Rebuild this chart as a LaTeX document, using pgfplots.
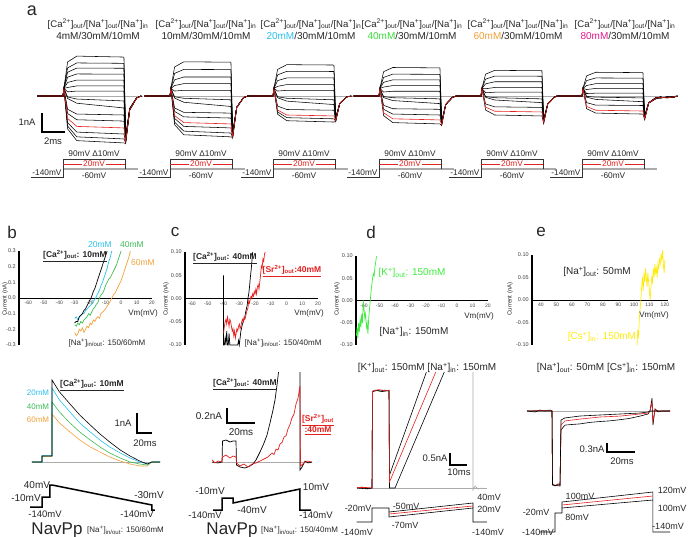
\documentclass[border=0pt]{standalone}
\usepackage{fontspec}
\setmainfont{Liberation Sans}
\usepackage{pgfplots}
\usepackage{pgfplotstable}
\pgfplotsset{compat=1.18}
\definecolor{cyanC}{HTML}{2BC0EC}
\definecolor{greenB}{HTML}{3DBB55}
\definecolor{greenH}{HTML}{3AD93A}
\definecolor{orangeC}{HTML}{F2A03A}
\definecolor{magC}{HTML}{E2188C}
\definecolor{redC}{HTML}{E3211F}
\definecolor{greenD}{HTML}{3DEB3D}
\definecolor{yellowC}{HTML}{FFEB0A}
\definecolor{grayC}{HTML}{ABABAB}
\definecolor{txt}{HTML}{262626}
\newcommand{\fs}[1]{\fontsize{#1}{#1}\selectfont}
\newcommand{\ion}[3]{[#1\textsuperscript{#2}]\textsubscript{#3}}
\newcommand{\T}[4][]{\node[#1] at (#2,-#3) {#4};}

% panel a: one table per group; columns = time (ms), then traces (nA); last column = red trace
\pgfplotstableread[header=false]{
-2.2 0 0 0 0 0 0 0 0 0 0 0 0 0 0 0
0 0 0 0 0 0 0 0 0 0 0 0 0 0 0 0
0.08 0.4 0.4 0.4 0.4 0.4 0.4 0.4 0.4 0.4 0.4 0.4 0.4 0.4 0.4 0.4
0.4 1.79 1.48 1.25 0.99 0.71 0.45 0.22 -0.05 -0.13 -0.70 -0.92 -1.40 -1.58 -1.73 -1.18
1.2 2.1 1.74 1.47 1.16 0.84 0.53 0.26 -0.16 -0.38 -0.95 -1.25 -1.90 -2.15 -2.35 -1.60
5.3 2.05 1.72 1.46 1.15 0.84 0.53 0.26 -0.26 -0.63 -1.00 -1.32 -2.00 -2.26 -2.47 -1.68
5.45 -2.1 -2.15 -2.2 -2.2 -2.25 -2.3 -2.3 -2.35 -2.35 -2.4 -2.4 -2.45 -2.45 -2.5 -2.4
5.8 -0.65 -0.66 -0.68 -0.68 -0.7 -0.7 -0.7 -0.72 -0.72 -0.73 -0.73 -0.74 -0.74 -0.75 -0.73
6.4 -0.1 -0.1 -0.1 -0.1 -0.1 -0.1 -0.1 -0.1 -0.1 -0.1 -0.1 -0.1 -0.1 -0.1 -0.1
6.8 0 0 0 0 0 0 0 0 0 0 0 0 0 0 0
}\gA
\pgfplotstableread[header=false]{
-2.2 0 0 0 0 0 0 0 0 0 0 0 0 0
0 0 0 0 0 0 0 0 0 0 0 0 0 0
0.08 0.4 0.4 0.4 0.4 0.4 0.4 0.4 0.4 0.4 0.4 0.4 0.4 0.4
0.4 1.53 1.19 0.85 0.55 0.26 -0.04 -0.11 -0.63 -0.81 -1.18 -1.37 -1.51 -1.03
1.2 1.8 1.4 1.0 0.65 0.3 -0.12 -0.33 -0.86 -1.10 -1.60 -1.85 -2.04 -1.40
5.3 1.78 1.39 1.0 0.65 0.3 -0.2 -0.55 -0.9 -1.16 -1.68 -1.95 -2.15 -1.47
5.45 -1.9 -1.95 -2.0 -2.0 -2.05 -2.05 -2.1 -2.1 -2.1 -2.15 -2.2 -2.2 -2.15
5.8 -0.6 -0.6 -0.6 -0.6 -0.6 -0.6 -0.6 -0.6 -0.6 -0.6 -0.6 -0.6 -0.6
6.4 -0.08 -0.08 -0.08 -0.08 -0.08 -0.08 -0.08 -0.08 -0.08 -0.08 -0.08 -0.08 -0.08
6.8 0 0 0 0 0 0 0 0 0 0 0 0 0
}\gB
\pgfplotstableread[header=false]{
-2.2 0 0 0 0 0 0 0 0 0 0 0
0 0 0 0 0 0 0 0 0 0 0 0
0.08 0.4 0.4 0.4 0.4 0.4 0.4 0.4 0.4 0.4 0.4 0.4
0.4 1.40 1.11 0.81 0.51 0.26 -0.04 -0.09 -0.53 -0.84 -0.96 -0.74
1.2 1.65 1.3 0.95 0.6 0.3 -0.12 -0.27 -0.71 -1.14 -1.30 -1.0
5.3 1.63 1.29 0.95 0.6 0.3 -0.2 -0.45 -0.75 -1.2 -1.37 -1.05
5.45 -1.1 -1.15 -1.2 -1.2 -1.25 -1.25 -1.3 -1.3 -1.35 -1.35 -1.3
5.8 -0.4 -0.4 -0.4 -0.4 -0.4 -0.4 -0.4 -0.4 -0.4 -0.4 -0.4
6.4 -0.05 -0.05 -0.05 -0.05 -0.05 -0.05 -0.05 -0.05 -0.05 -0.05 -0.05
6.8 0 0 0 0 0 0 0 0 0 0 0
}\gC
\pgfplotstableread[header=false]{
-2.2 0 0 0 0 0 0 0 0 0 0 0
0 0 0 0 0 0 0 0 0 0 0 0
0.08 0.4 0.4 0.4 0.4 0.4 0.4 0.4 0.4 0.4 0.4 0.4
0.4 1.28 0.98 0.72 0.47 0.21 -0.03 -0.08 -0.49 -0.70 -1.03 -0.88
1.2 1.5 1.15 0.85 0.55 0.25 -0.09 -0.24 -0.67 -0.95 -1.40 -1.20
5.3 1.48 1.14 0.85 0.55 0.25 -0.15 -0.4 -0.7 -1.0 -1.47 -1.26
5.45 -1.3 -1.35 -1.4 -1.4 -1.45 -1.45 -1.5 -1.5 -1.5 -1.55 -1.5
5.8 -0.45 -0.45 -0.45 -0.45 -0.45 -0.45 -0.45 -0.45 -0.45 -0.45 -0.45
6.4 -0.06 -0.06 -0.06 -0.06 -0.06 -0.06 -0.06 -0.06 -0.06 -0.06 -0.06
6.8 0 0 0 0 0 0 0 0 0 0 0
}\gD
\pgfplotstableread[header=false]{
-2.2 0 0 0 0 0 0 0 0 0 0
0 0 0 0 0 0 0 0 0 0 0
0.08 0.4 0.4 0.4 0.4 0.4 0.4 0.4 0.4 0.4 0.4
0.4 1.15 0.89 0.64 0.38 0.17 -0.03 -0.07 -0.42 -0.74 -0.59
1.2 1.35 1.05 0.75 0.45 0.2 -0.09 -0.21 -0.57 -1.0 -0.8
5.3 1.33 1.04 0.75 0.45 0.2 -0.15 -0.35 -0.6 -1.05 -0.84
5.45 -1.2 -1.25 -1.3 -1.3 -1.35 -1.35 -1.4 -1.4 -1.45 -1.4
5.8 -0.42 -0.42 -0.42 -0.42 -0.42 -0.42 -0.42 -0.42 -0.42 -0.42
6.4 -0.05 -0.05 -0.05 -0.05 -0.05 -0.05 -0.05 -0.05 -0.05 -0.05
6.8 0 0 0 0 0 0 0 0 0 0
}\gE
\pgfplotstableread[header=false]{
-2.2 0 0 0 0 0 0 0 0 0 0
0 0 0 0 0 0 0 0 0 0 0
0.08 0.4 0.4 0.4 0.4 0.4 0.4 0.4 0.4 0.4 0.4
0.4 1.06 0.81 0.55 0.34 0.13 -0.02 -0.06 -0.35 -0.67 -0.55
1.2 1.25 0.95 0.65 0.4 0.15 -0.06 -0.18 -0.48 -0.9 -0.75
5.3 1.23 0.94 0.65 0.4 0.15 -0.1 -0.3 -0.5 -0.95 -0.79
5.45 -1.0 -1.05 -1.1 -1.1 -1.15 -1.15 -1.2 -1.2 -1.25 -1.2
5.8 -0.35 -0.36 -0.35 -0.37 -0.36 -0.35 -0.38 -0.36 -0.37 -0.36
6.4 -0.12 -0.1 -0.15 -0.08 -0.12 -0.1 -0.14 -0.12 -0.16 -0.13
6.8 -0.05 -0.1 -0.04 -0.12 -0.06 -0.09 -0.05 -0.1 -0.08 -0.07
7.4 -0.08 -0.03 -0.1 -0.05 -0.09 -0.04 -0.1 -0.06 -0.07 -0.1
8.0 -0.02 -0.06 -0.04 -0.07 -0.03 -0.05 -0.06 -0.03 -0.05 -0.04
8.3 0 0 0 0 0 0 0 0 0 0
}\gF

\pgfplotsset{
 tr/.style={scale only axis, hide axis, clip=false, anchor=south west},
 grp/.style={tr, xmin=-2.2, xmax=6.6, ymin=-4.5, ymax=2.5, width=101.2pt, height=133pt},
 iv/.style={scale only axis, anchor=south west, clip=false,
   axis x line=middle, axis y line=left, axis line style={-},
   x axis line style={line width=1pt}, y axis line style={line width=2.4pt},
   tick style={draw=none},
   xticklabel style={font=\fs{5}, text=black!75, inner sep=1pt},
   yticklabel style={font=\fs{5.5}, text=black!75, inner sep=1pt},
   /pgf/number format/assume math mode=true, scaled y ticks=false,
   hide obscured x ticks=false, hide obscured y ticks=false},
}
\newcommand{\grp}[4]{%
\begin{axis}[grp, at={(#1pt,-181.5pt)}]
\addplot[grayC, line width=0.6pt] coordinates {(-2.2,0) (7.0,0)};
\pgfplotsinvokeforeach{1,...,#3}{\addplot[black, line width=0.55pt] table[x index=0, y index=##1]{#2};}
\addplot[redC, line width=0.6pt] table[x index=0, y index=#4]{#2};
\addplot[grayC, line width=1.3pt] coordinates {(0,-3.842) (6.5,-3.842)};
\addplot[black!80, line width=0.5pt] coordinates {(-2.78,-4.263) (0,-4.263) (0,-3.316) (5.39,-3.316) (5.39,-3.842)};
\addplot[redC, line width=0.5pt] coordinates {(0,-3.579) (5.39,-3.579)};
\end{axis}}

\begin{document}
\begin{tikzpicture}[x=1pt, y=1pt, every node/.style={inner sep=0.3pt, text=txt}]
\useasboundingbox (0,0) rectangle (688,-537);

% ---------------- panel a ----------------
\grp{37.7}{\gA}{14}{15}
\grp{144.7}{\gB}{12}{13}
\grp{247.7}{\gC}{10}{11}
\grp{353.7}{\gD}{10}{11}
\grp{455.7}{\gE}{9}{10}
\grp{556.7}{\gF}{9}{10}
\begin{axis}[grp, at={(37.7pt,-181.5pt)}]
\addplot[black, line width=2pt] coordinates {(-1.83,-0.895) (-1.83,-1.895) (0.17,-1.895)};
\end{axis}
\T[font=\fs{18}]{32}{11}{a}
\foreach \cx/\lab in {98/{4mM/30mM/10mM}, 206/{10mM/30mM/10mM}, 311/{{\color{cyanC}20mM}/30mM/10mM}, 412/{{\color{greenH}40mM}/30mM/10mM}, 518/{{\color{orangeC}60mM}/30mM/10mM}, 625/{{\color{magC}80mM}/30mM/10mM}}{
  \node[font=\fs{9.6}] at (\cx,-24) {\ion{Ca}{2+}{out}/\ion{Na}{+}{out}/\ion{Na}{+}{in}};
  \node[font=\fs{10}] at (\cx,-36) {\lab};
}
\foreach \x in {63,170,273,379,481,582}{
  \node[font=\fs{8.3}] at (\x+31,-154) {90mV Δ10mV};
  \node[font=\fs{8.3}, text=redC, fill=white, inner xsep=1pt, inner ysep=0pt] at (\x+31,-164) {20mV};
  \node[font=\fs{8.3}] at (\x+31,-175.5) {-60mV};
  \node[font=\fs{8.3}] at (\x-16,-173) {-140mV};
}
\T[font=\fs{9.5}]{27}{122}{1nA}
\T[font=\fs{9.5}]{53}{141}{2ms}

% ---------------- panel b ----------------
\begin{axis}[iv, at={(19pt,-345pt)}, width=133pt, height=94pt, xmin=-66, xmax=20, ymin=-0.3, ymax=0.3,
  xtick={-60,-50,...,20}, ytick={-0.3,-0.2,-0.1,0,0.1,0.2,0.3},
  yticklabel style={/pgf/number format/.cd, fixed, fixed zerofill, precision=1}]
\addplot[orangeC, line width=0.7pt] coordinates {(-30,-0.22) (-29,-0.24) (-28,-0.23) (-27,-0.2) (-26,-0.21) (-25,-0.19) (-24,-0.22) (-23,-0.2) (-22,-0.18) (-21,-0.19) (-20,-0.16) (-19,-0.17) (-18,-0.14) (-17,-0.15) (-16,-0.13) (-15,-0.12) (-14,-0.13) (-13,-0.1) (-12,-0.09) (-11,-0.08) (-10,-0.07) (-9,-0.05) (-8,-0.04) (-7,-0.02) (-6,0.0) (-5,0.02) (-4,0.03) (-3,0.05) (-2,0.07) (-1,0.09) (0,0.11) (1,0.14) (2,0.17) (3,0.2) (4,0.23) (5,0.26) (6,0.3)};
\addplot[greenB, line width=0.7pt] coordinates {(-30,-0.17) (-29,-0.18) (-28,-0.16) (-27,-0.17) (-26,-0.15) (-25,-0.16) (-24,-0.14) (-23,-0.13) (-22,-0.12) (-21,-0.1) (-20,-0.11) (-19,-0.09) (-18,-0.07) (-17,-0.06) (-16,-0.04) (-15,-0.03) (-14,0.0) (-13,0.02) (-12,0.03) (-11,0.05) (-10,0.08) (-9,0.1) (-8,0.12) (-7,0.13) (-6,0.15) (-5,0.17) (-4,0.19) (-3,0.21) (-2,0.24) (-1,0.27) (0,0.3)};
\addplot[cyanC, line width=0.7pt] coordinates {(-30,-0.13) (-29,-0.12) (-28,-0.14) (-27,-0.12) (-26,-0.11) (-25,-0.1) (-24,-0.1) (-23,-0.08) (-22,-0.07) (-21,-0.06) (-20,-0.05) (-19,-0.04) (-18,-0.02) (-17,-0.01) (-16,0.01) (-15,0.03) (-14,0.05) (-13,0.08) (-12,0.1) (-11,0.13) (-10,0.16) (-9,0.19) (-8,0.23) (-7,0.26) (-6,0.3)};
\addplot[black, line width=0.7pt] coordinates {(-30,-0.16) (-29,-0.15) (-28,-0.15) (-27,-0.12) (-26,-0.11) (-25,-0.1) (-24,-0.08) (-23,-0.07) (-22,-0.05) (-21,-0.03) (-20,-0.01) (-19,0.01) (-18,0.04) (-17,0.06) (-16,0.09) (-15,0.12) (-14,0.15) (-13,0.18) (-12,0.21) (-11,0.24) (-10,0.27) (-9,0.3)};
\end{axis}
\T[font=\fs{6}, rotate=90]{5}{299}{Current (nA)}
\T[font=\fs{8}]{143}{313}{Vm(mV)}
\T[font=\fs{8.5}]{75}{256}{\underline{\textbf{\ion{Ca}{2+}{out}: 10mM}}}
\T[font=\fs{8.5}, text=cyanC]{100}{245}{20mM}
\T[font=\fs{8.5}, text=greenB]{132}{245}{40mM}
\T[font=\fs{8.5}, text=orangeC]{143}{263}{60mM}
\T[font=\fs{8}]{107}{343}{\ion{Na}{+}{in/out}: 150/60mM}

\begin{axis}[tr, at={(29.5pt,-514pt)}, xmin=-30, xmax=150, ymin=-2.6, ymax=4.5, width=135pt, height=142pt]
\addplot[grayC, line width=0.7pt] coordinates {(-26.7,0) (144,0)};
\addplot[orangeC, line width=0.6pt] coordinates {(-27,0) (-13.3,0) (-13.3,0.28) (0,0.28) (0,2.4) (10,1.95) (24,1.5) (37,1.1) (51,0.75) (64,0.5) (77,0.25) (91,0.05) (104,-0.1) (117,-0.2) (127,-0.2) (133,0) (144,0)};
\addplot[greenB, line width=0.6pt] coordinates {(-27,0) (-13.3,0) (-13.3,0.3) (0,0.3) (0,3.0) (10,2.5) (24,1.95) (37,1.5) (51,1.1) (64,0.75) (77,0.45) (91,0.2) (104,0) (117,-0.1) (127,-0.15) (133,0) (144,0)};
\addplot[cyanC, line width=0.6pt] coordinates {(-27,0) (-13.3,0) (-13.3,0.32) (0,0.32) (0,3.7) (10,3.1) (24,2.5) (37,1.95) (51,1.5) (64,1.1) (77,0.75) (91,0.45) (104,0.2) (117,0) (127,-0.1) (133,0) (144,0)};
\addplot[black, line width=0.6pt] coordinates {(-27,0) (-13.3,0) (-13.3,0.3) (0,0.3) (0,4.1) (10,3.5) (24,2.9) (37,2.35) (51,1.85) (64,1.4) (77,1.0) (91,0.6) (104,0.3) (117,0.05) (127,-0.1) (133,0) (144,0)};
\addplot[black, line width=1.5pt] coordinates {(-29.3,-2.25) (-13.3,-2.25) (-13.3,-1.75) (-2.7,-1.75) (-2.7,-1.15) (0,-1.15) (133.3,-2.15) (133.3,-2.4) (137,-2.4)};
\addplot[black, line width=2pt] coordinates {(113.3,2.45) (113.3,1.45) (133.3,1.45)};
\end{axis}
\T[font=\fs{8.5}]{92}{385}{\underline{\textbf{\ion{Ca}{2+}{out}: 10mM}}}
\T[font=\fs{8}, text=cyanC]{38}{393}{20mM}
\T[font=\fs{8}, text=greenB]{38}{407}{40mM}
\T[font=\fs{8}, text=orangeC]{38}{420}{60mM}
\T[font=\fs{9.5}]{123}{423}{1nA}
\T[font=\fs{9.5}]{145}{443}{20ms}
\T[font=\fs{10}]{37}{485}{40mV}
\T[font=\fs{10}]{26}{498}{-10mV}
\T[font=\fs{9.5}]{45}{514.5}{-140mV}
\T[font=\fs{9.5}]{137}{514.5}{-140mV}
\T[font=\fs{10}]{149}{495}{-30mV}
\T[font=\fs{17}]{57}{530}{NavPp}
\T[font=\fs{8}]{125.5}{530.5}{\ion{Na}{+}{in/out}: 150/60mM}
\T[font=\fs{17}]{12}{232}{b}

% ---------------- panel c ----------------
\begin{axis}[iv, at={(185pt,-345pt)}, width=133pt, height=93pt, xmin=-64.5, xmax=20, ymin=-0.1, ymax=0.1,
  xtick={-60,-50,...,20}, ytick={-0.1,-0.05,0,0.05,0.1},
  yticklabel style={/pgf/number format/.cd, fixed, fixed zerofill, precision=2}]
\addplot[black, line width=0.7pt] coordinates {(-40,0.05) (-40,-0.1) (-39.5,-0.1) (-39,-0.085) (-38.5,-0.1) (-38,-0.07) (-37.5,-0.1) (-37,-0.1) (-36.5,-0.075) (-36,-0.1) (-35,-0.1) (-31,-0.1) (-30.5,-0.09) (-30,-0.1) (-29.5,-0.085) (-29,-0.07) (-28,-0.055) (-27,-0.045) (-26.5,-0.04) (-26,-0.03) (-25,-0.015) (-24.5,0.0) (-24,0.01) (-23.5,0.025) (-23,0.045) (-22.5,0.06) (-22,0.08) (-21.5,0.1)};
\addplot[redC, line width=0.7pt] coordinates {(-40,-0.075) (-39.5,-0.06) (-39,-0.05) (-38.5,-0.045) (-38,-0.055) (-37.5,-0.04) (-37,-0.05) (-36.5,-0.06) (-36,-0.045) (-35.5,-0.05) (-35,-0.06) (-34.5,-0.07) (-34,-0.065) (-33.5,-0.08) (-33,-0.07) (-32.5,-0.085) (-32,-0.075) (-31.5,-0.065) (-31,-0.07) (-30.5,-0.06) (-30,-0.055) (-29.5,-0.065) (-29,-0.06) (-28.5,-0.05) (-28,-0.045) (-27.5,-0.05) (-27,-0.04) (-26.5,-0.045) (-26,-0.04) (-25.5,-0.03) (-25,-0.025) (-24.5,-0.02) (-24,-0.005) (-23.5,-0.01) (-23,0.0) (-22.5,0.005) (-22,0.0) (-21.5,0.01) (-21,0.005) (-20.5,0.015) (-20,0.01) (-19.5,0.02) (-19,0.01) (-18.5,0.025) (-18,0.03) (-17.5,0.02) (-17,0.035) (-16.5,0.05) (-16,0.07) (-15.5,0.065) (-15,0.085) (-14.5,0.08) (-14,0.095) (-13.5,0.1)};
\end{axis}
\T[font=\fs{6}, rotate=90]{166}{299}{Current (nA)}
\T[font=\fs{8}]{309}{313}{Vm(mV)}
\T[font=\fs{8.5}]{225}{258}{\underline{\textbf{\ion{Ca}{2+}{out}: 40mM}}}
\T[font=\fs{8.5}, text=redC]{292}{271}{\underline{\textbf{\ion{Sr}{2+}{out}:40mM}}}
\T[font=\fs{8}]{283}{343}{\ion{Na}{+}{in/out}: 150/40mM}

\begin{axis}[tr, at={(210.8pt,-514.5pt)}, xmin=-8, xmax=66, ymin=-0.7, ymax=1.2, width=103.6pt, height=142.5pt]
\addplot[grayC, line width=0.7pt] coordinates {(-7,0) (64.3,0)};
\addplot[black, line width=0.7pt] coordinates {(-7.14,0) (-2.86,-0.013) (0,0) (0.36,0.28) (2.86,0.293) (5.71,0.267) (7.86,0.28) (10,0.28) (10.36,-0.04) (12.86,-0.067) (16.43,-0.08) (20,-0.053) (22.14,-0.027) (24.29,0.027) (27.14,0.133) (30,0.253) (32.14,0.36) (34.29,0.52) (36.43,0.693) (37.86,0.827) (39.29,1.027) (40.36,1.2)};
\addplot[black, line width=0.7pt] coordinates {(55.71,1.2) (55.71,-0.107) (57.14,-0.067) (59.29,0.013) (61.43,-0.013) (64.29,0)};
\addplot[redC, line width=0.7pt] coordinates {(-7.14,0.027) (-5,-0.013) (-2.86,0.013) (0,0) (0.36,0.067) (2.86,0.093) (5.71,0.053) (7.86,0.08) (10,0.067) (10.36,-0.013) (12.86,-0.053) (15.71,-0.027) (18.57,-0.067) (21.43,-0.027) (24.29,-0.013) (27.14,0.013) (30,0.04) (32.86,0.067) (35.71,0.12) (37.14,0.1) (38.57,0.173) (40,0.16) (41.43,0.24) (42.86,0.26) (44.29,0.333) (45.71,0.35) (47.14,0.44) (48.57,0.5) (50,0.587) (51.43,0.64) (52.86,0.773) (54.29,0.85) (55.71,1.013) (56.07,-0.053) (58.57,-0.013) (60.71,0.013) (64.29,0)};
\addplot[black, line width=1.5pt] coordinates {(-6.43,-0.64) (0,-0.64) (0,-0.48) (7.86,-0.48) (7.86,-0.547) (55.71,-0.36) (55.71,-0.64) (63.57,-0.64)};
\addplot[black, line width=2pt] coordinates {(3.57,0.72) (3.57,0.52) (23.57,0.52)};
\end{axis}
\T[font=\fs{8.5}]{245}{384}{\underline{\textbf{\ion{Ca}{2+}{out}: 40mM}}}
\T[font=\fs{8.5}, text=redC]{318}{420}{\underline{\textbf{\ion{Sr}{2+}{out}}}}
\T[font=\fs{8.5}, text=redC]{318}{431}{\underline{\textbf{:40mM}}}
\T[font=\fs{10}]{209}{416}{0.2nA}
\T[font=\fs{10}]{241}{432}{20ms}
\T[font=\fs{10}]{210}{491}{-10mV}
\T[font=\fs{10}]{252}{510}{-40mV}
\T[font=\fs{10}]{316}{487}{10mV}
\T[font=\fs{9.5}]{205}{515}{-140mV}
\T[font=\fs{9.5}]{316}{515}{-140mV}
\T[font=\fs{17}]{232}{530}{NavPp}
\T[font=\fs{8}]{299.5}{530.5}{\ion{Na}{+}{in/out}: 150/40mM}
\T[font=\fs{17}]{175}{232}{c}

% ---------------- panel d ----------------
\begin{axis}[iv, at={(356pt,-345pt)}, width=132pt, height=89pt, xmin=-65.2, xmax=20, ymin=-0.1, ymax=0.1,
  xtick={-60,-50,...,20}, ytick={-0.1,-0.05,0,0.05,0.1},
  yticklabel style={/pgf/number format/.cd, fixed, fixed zerofill, precision=2}]
\addplot[greenD, line width=0.7pt] coordinates {(-65,-0.08) (-64.5,-0.06) (-64,-0.085) (-63.5,-0.05) (-63,-0.07) (-62.5,-0.04) (-62,-0.06) (-61.5,-0.03) (-61,-0.05) (-60.5,0.0) (-60,-0.02) (-59.5,-0.04) (-59,-0.03) (-58.5,-0.06) (-58,-0.05) (-57.5,-0.075) (-57,-0.04) (-56.5,-0.02) (-56,0.0) (-55.5,0.02) (-55,0.035) (-54.5,0.05) (-54,0.06) (-53.5,0.055) (-53,0.075) (-52.5,0.085) (-52,0.1)};
\end{axis}
\T[font=\fs{6}, rotate=90]{337}{299}{Current (nA)}
\T[font=\fs{8}]{479}{316}{Vm(mV)}
\T[font=\fs{10}, text=greenD]{412}{273}{\ion{K}{+}{out}: 150mM}
\T[font=\fs{10}]{414}{332}{\ion{Na}{+}{in}: 150mM}
\T[font=\fs{10}]{427}{368}{\ion{K}{+}{out}: 150mM \ion{Na}{+}{in}: 150mM}

\begin{axis}[tr, at={(355pt,-524pt)}, xmin=-10, xmax=72, ymin=-1.5, ymax=4.8, width=139.4pt, height=151.2pt]
\addplot[grayC, line width=0.7pt] coordinates {(-8.8,0) (67.6,0)};
\addplot[grayC, line width=0.7pt] coordinates {(59.4,4.83) (59.4,-0.08) (60.6,0.08) (62.4,-0.04) (64.7,0)};
\addplot[black, line width=0.6pt] coordinates {(-8.82,0) (-5.88,0.04) (-2.94,-0.04) (0,0) (0.29,4.0) (1.76,4.08) (4.71,4.04) (7.65,4.08) (10,4.04) (10.29,0.54) (32,4.83)};
\addplot[black, line width=0.6pt] coordinates {(-8.82,0) (-4,-0.03) (0,0) (0.29,4.02) (3,4.06) (6,4.02) (10,4.06) (10.29,0.0) (13.53,0.0) (42.5,4.83)};
\addplot[redC, line width=0.6pt] coordinates {(-8.82,0.02) (-3,0.02) (0,0) (0.29,4.04) (4,4.1) (8,4.05) (10,4.08) (10.29,0.25) (37.5,4.83)};
\addplot[black, line width=0.6pt] coordinates {(-9,-1.417) (0,-1.417) (0,-0.833) (10,-0.833) (10,-1.208) (59.4,-0.833) (59.4,-1.417) (67.6,-1.417)};
\addplot[black, line width=0.6pt] coordinates {(10,-1.0) (59.4,-0.625) (59.4,-0.833)};
\addplot[redC, line width=0.6pt] coordinates {(10,-1.083) (59.4,-0.75)};
\addplot[black, line width=2pt] coordinates {(45.9,1.458) (45.9,0.958) (55.9,0.958)};
\end{axis}
\T[font=\fs{9.5}]{435}{458}{0.5nA}
\T[font=\fs{9.5}]{459}{472}{10ms}
\T[font=\fs{9}]{358}{508}{-20mV}
\T[font=\fs{9}]{406}{506}{-50mV}
\T[font=\fs{9}]{405}{525}{-70mV}
\T[font=\fs{9}]{489}{497}{40mV}
\T[font=\fs{9}]{489}{509}{20mV}
\T[font=\fs{9}]{357}{532}{-140mV}
\T[font=\fs{9}]{488}{532}{-140mV}
\T[font=\fs{17}]{371}{232}{d}

% ---------------- panel e ----------------
\begin{axis}[iv, at={(532pt,-345pt)}, width=136pt, height=90pt, xmin=34.2, xmax=122, ymin=-0.1, ymax=0.1,
  xtick={40,50,...,120}, ytick={-0.1,-0.05,0,0.05,0.1},
  yticklabel style={/pgf/number format/.cd, fixed, fixed zerofill, precision=2}]
\addplot[yellowC, line width=0.7pt] coordinates {(102,-0.10) (102.5,-0.07) (103,-0.08) (103.5,-0.04) (104,-0.02) (104.5,0.0) (105,0.03) (105.5,0.05) (106,0.02) (106.5,0.06) (107,0.04) (107.5,0.07) (108,0.05) (108.5,0.03) (109,0.06) (109.5,0.04) (110,0.02) (110.5,0.0) (111,0.03) (111.5,0.05) (112,0.04) (112.5,0.07) (113,0.05) (113.5,0.08) (114,0.06) (114.5,0.07) (115,0.05) (115.5,0.08) (116,0.07) (116.5,0.09) (117,0.08) (117.5,0.1) (118,0.09) (118.5,0.11) (119,0.08) (119.5,0.06) (120,0.09)};
\end{axis}
\T[font=\fs{6}, rotate=90]{510}{299}{Current (nA)}
\T[font=\fs{8}]{654}{315}{Vm(mV)}
\T[font=\fs{10}]{597}{272}{\ion{Na}{+}{out}: 50mM}
\T[font=\fs{10}, text=yellowC]{602}{337}{\ion{Cs}{+}{in}: 150mM}
\T[font=\fs{10}]{606}{368}{\ion{Na}{+}{out}: 50mM \ion{Cs}{+}{in}: 150mM}

\begin{axis}[tr, at={(524pt,-537pt)}, xmin=-20, xmax=90, ymin=-4.2, ymax=0.7, width=154pt, height=147pt]
\addplot[grayC, line width=0.7pt] coordinates {(-18,0) (84.3,0)};
\addplot[black, line width=0.6pt] coordinates {(-17.86,0) (-12.14,-0.033) (-8.57,0.033) (-5,0) (-1.43,0.033) (0,0) (0.36,-2.43) (2.14,-2.5) (4.29,-2.43) (5.71,-2.47) (6.43,-0.63) (9.29,-0.47) (14,-0.45) (20,-0.43) (27,-0.38) (34.3,-0.35) (41,-0.33) (48.6,-0.29) (55,-0.25) (62.9,-0.17) (68.6,-0.1) (70,0) (71.43,0.43) (72.14,-0.47) (73.57,0.07) (75.71,-0.03) (78.57,0) (84.29,0)};
\addplot[redC, line width=0.6pt] coordinates {(-17.86,0) (-5,0.02) (0,0) (0.36,-2.45) (3,-2.48) (5.71,-2.45) (6.43,-0.47) (9.29,-0.33) (20,-0.27) (34.29,-0.2) (48.57,-0.17) (62.86,-0.1) (68.57,-0.067) (70,0) (71.43,0.3) (72.14,-0.35) (73.57,0.05) (76,0) (84.29,0)};
\addplot[black, line width=0.6pt] coordinates {(-17.86,0) (0,0) (0.36,-2.47) (5.71,-2.5) (6.43,-0.3) (9.29,-0.23) (20,-0.167) (34.29,-0.133) (48.57,-0.1) (62.86,-0.067) (68.57,-0.033) (70,0) (84.29,0)};
\addplot[black, line width=0.6pt] coordinates {(-8.6,-4.033) (2.14,-4.033) (2.14,-3.4) (7.14,-3.4) (7.14,-3.233) (72.1,-2.967) (72.1,-4.033) (84.3,-4.033)};
\addplot[black, line width=0.6pt] coordinates {(7.14,-3.233) (7.14,-3.033) (72.1,-2.7) (72.1,-2.967)};
\addplot[redC, line width=0.6pt] coordinates {(7.14,-3.133) (72.1,-2.833)};
\addplot[black, line width=2pt] coordinates {(39.3,-1.067) (39.3,-1.367) (59.3,-1.367)};
\end{axis}
\T[font=\fs{9.5}]{592}{449}{0.3nA}
\T[font=\fs{9.5}]{622}{461}{20ms}
\T[font=\fs{9}]{536}{512}{-20mV}
\T[font=\fs{9}]{538}{532}{-140mV}
\T[font=\fs{9}]{580}{496}{100mV}
\T[font=\fs{9}]{577}{517}{80mV}
\T[font=\fs{9}]{672}{490}{120mV}
\T[font=\fs{9}]{672}{508}{100mV}
\T[font=\fs{9}]{668}{526}{-140mV}
\T[font=\fs{17}]{541}{232}{e}
\end{tikzpicture}
\end{document}
